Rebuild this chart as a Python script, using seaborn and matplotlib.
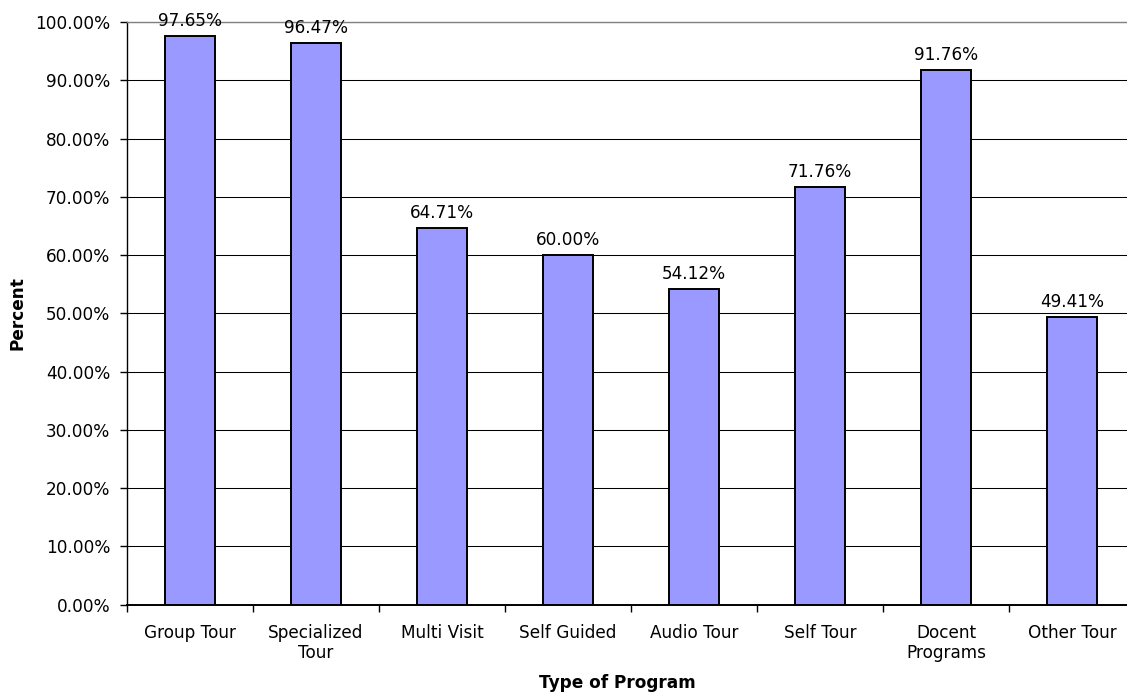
import matplotlib
matplotlib.use("Agg")
import matplotlib.pyplot as plt
import seaborn as sns
import pandas as pd
from matplotlib.ticker import FuncFormatter, MultipleLocator

categories = ["Group Tour", "Specialized\nTour", "Multi Visit", "Self Guided",
              "Audio Tour", "Self Tour", "Docent\nPrograms", "Other Tour"]
values = [97.65, 96.47, 64.71, 60.00, 54.12, 71.76, 91.76, 49.41]

df = pd.DataFrame({"Program": categories, "Percent": values})

sns.set_theme(style="white")
plt.rcParams['font.family'] = ['DejaVu Sans']
plt.rcParams['text.color'] = 'black'
plt.rcParams['axes.labelcolor'] = 'black'
plt.rcParams['xtick.color'] = 'black'
plt.rcParams['ytick.color'] = 'black'

FS = 12.2

fig = plt.figure(figsize=(11.27, 6.92), dpi=100)
ax = fig.add_axes([127/1127, 1 - 604.7/692, 1008/1127, 582.7/692])

sns.barplot(data=df, x="Program", y="Percent", ax=ax, color="#9999FF",
            saturation=1, width=0.40, edgecolor="black", linewidth=1.4, zorder=3)

ax.set_xlim(-0.5, len(categories) - 0.5)
ax.set_ylim(0, 100)
ax.yaxis.set_major_locator(MultipleLocator(10))
ax.yaxis.set_major_formatter(FuncFormatter(lambda v, p: f"{v:.2f}%"))
ax.grid(axis="y", color="black", linewidth=0.75, zorder=0)
ax.set_axisbelow(True)

ax.spines["right"].set_visible(False)
ax.spines["top"].set_color("#808080")
ax.spines["top"].set_linewidth(1.0)
ax.spines["left"].set_color("black")
ax.spines["bottom"].set_color("black")
ax.spines["left"].set_linewidth(1.0)
ax.spines["bottom"].set_linewidth(1.4)

ax.set_xticks(list(range(len(categories))))
ax.set_xticklabels(categories, fontsize=FS, linespacing=1.15)
ax.set_xticks([i - 0.5 for i in range(len(categories) + 1)], minor=True)
ax.tick_params(axis="x", which="major", length=0, pad=14)
ax.tick_params(axis="x", which="minor", length=5, width=1, color="black", direction="out", bottom=True)
ax.tick_params(axis="y", length=5, width=1, color="black", direction="out", left=True, labelsize=FS, pad=7)

for i, v in enumerate(values):
    ax.annotate(f"{v:.2f}%", xy=(i, v), xytext=(0, 10), textcoords="offset pixels",
                ha="center", va="baseline", fontsize=FS, color="black", annotation_clip=False)

ax.set_xlabel("Type of Program", fontsize=FS, fontweight="bold")
ax.set_ylabel("Percent", fontsize=FS, fontweight="bold")
ax.xaxis.label.set_va("center")
ax.yaxis.label.set_va("center")
ax.xaxis.set_label_coords((617 - 127) / 1008, -(683 - 604.7) / 582.7)
ax.yaxis.set_label_coords(-(127 - 18) / 1008, (604.7 - 313) / 582.7)

fig.savefig("out.png", dpi=100)
